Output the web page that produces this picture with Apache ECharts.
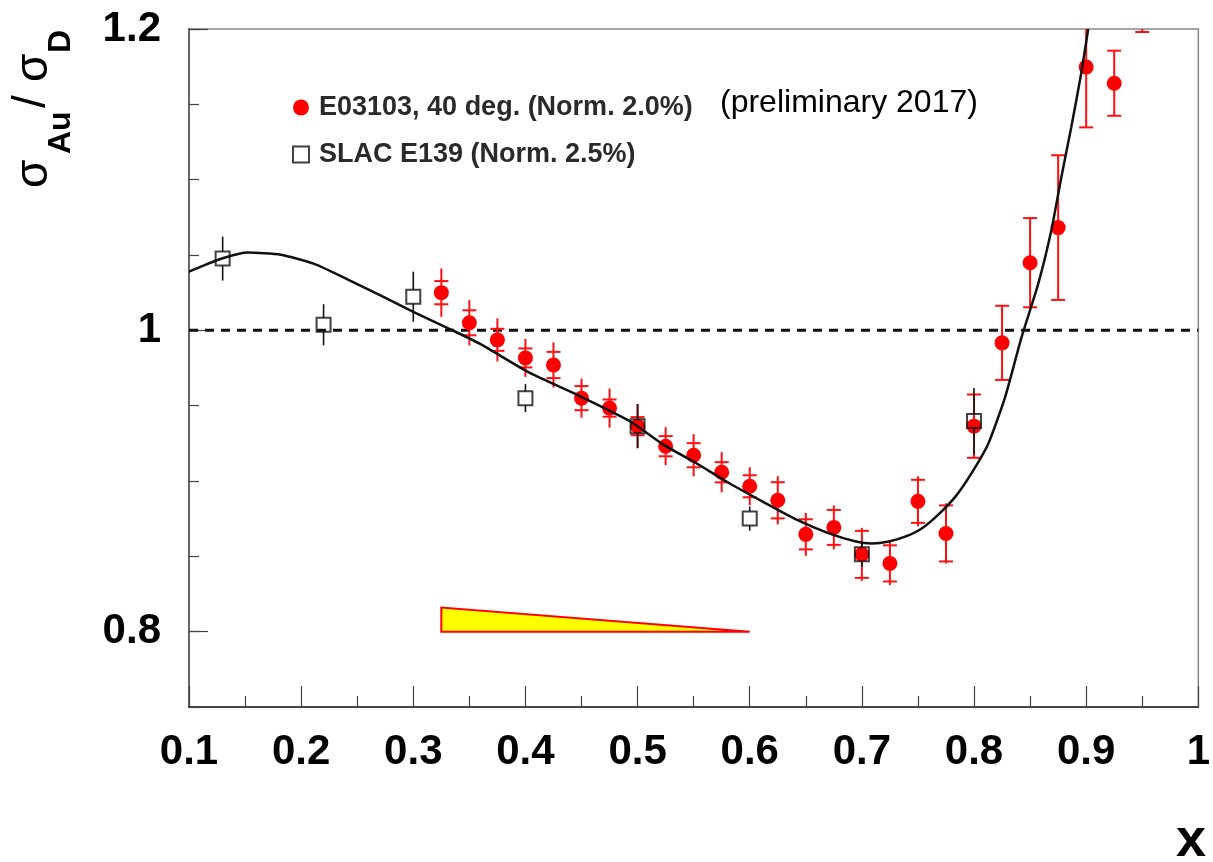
<!DOCTYPE html>
<html>
<head>
<meta charset="utf-8">
<script src="https://cdn.jsdelivr.net/npm/echarts@6/dist/echarts.min.js"></script>
<style>
  html, body { margin: 0; padding: 0; background: #fff; }
  #chart { width: 1213px; height: 862px; }
</style>
</head>
<body>
<div id="chart"></div>
<script>
// E03103, 40 deg: x, ratio, stat error (caps), total error (bar)
var e03103X = [0.325, 0.35, 0.375, 0.4, 0.425, 0.45, 0.475, 0.5, 0.525, 0.55, 0.575, 0.6, 0.625,
               0.65, 0.675, 0.7, 0.725, 0.75, 0.775, 0.8, 0.825, 0.85, 0.875, 0.9, 0.925, 0.95];
var e03103Y = [1.025, 1.005, 0.9937, 0.9817, 0.977, 0.955, 0.9484, 0.9364, 0.9231, 0.9171, 0.9058, 0.8965, 0.8872,
               0.8646, 0.8692, 0.8513, 0.8453, 0.8865, 0.8652, 0.9364, 0.9917, 1.0449, 1.0682, 1.1747, 1.164, 1.235];
var e03103Stat = [0.0077, 0.0083, 0.0073, 0.0063, 0.0087, 0.008, 0.0057, 0.006, 0.0067, 0.008, 0.0067, 0.0073, 0.012,
                  0.01, 0.0116, 0.0156, 0.012, 0.0143, 0.0186, 0.021, 0.0246, 0.0296, 0.048, 0.04, 0.0216, 0.037];
var e03103Tot = [0.016, 0.015, 0.0143, 0.0126, 0.015, 0.013, 0.013, 0.0146, 0.0126, 0.014, 0.0133, 0.0126, 0.016,
                 0.0143, 0.0146, 0.0176, 0.0143, 0.0166, 0.02, 0.0213, 0.025, 0.03, 0.048, 0.04, 0.0216, 0.037];

// SLAC E139
var slacX = [0.13, 0.22, 0.30, 0.40, 0.50, 0.60, 0.70, 0.80];
var slacY = [1.0476, 1.0037, 1.0223, 0.955, 0.9364, 0.8751, 0.8513, 0.9398];
var slacErr = [0.0146, 0.0136, 0.0166, 0.0093, 0.0146, 0.008, 0.008, 0.022];

// fit curve
var fitX = [0.1, 0.1062, 0.13, 0.1524, 0.1818, 0.2111, 0.2413, 0.2707, 0.3, 0.3302, 0.3596, 0.404, 0.4484,
            0.4929, 0.5222, 0.5524, 0.5818, 0.6111, 0.6413, 0.6707, 0.6947, 0.7089, 0.724, 0.7391, 0.7533,
            0.7684, 0.7836, 0.7978, 0.8129, 0.828, 0.8422, 0.8573, 0.8689, 0.8778, 0.8867, 0.8956, 0.9018];
var fitY = [1.0389, 1.0409, 1.0478, 1.0516, 1.0502, 1.0443, 1.0339, 1.0232, 1.0123, 1.0017, 0.991, 0.9717, 0.9564,
            0.9398, 0.9245, 0.9118, 0.8985, 0.8865, 0.8745, 0.8652, 0.8598, 0.8585, 0.8598, 0.8632, 0.8685,
            0.8779, 0.8898, 0.9052, 0.9251, 0.9564, 0.995, 1.031, 1.0662, 1.1015, 1.1348, 1.1707, 1.2];

var unityX = [0.1, 1.0];
var unityY = [1, 1];

// normalisation band (yellow wedge)
var bandX = [0.325, 0.6];
var bandTop = [0.816, 0.8];
var bandBase = 0.8;

var yLabelValues = [0.8, 1, 1.2];

var font = '"Liberation Sans", Arial, sans-serif';

function zip(xs, ys) {
  return xs.map(function (x, i) { return [x, ys[i]]; });
}

var redErrData = e03103X.map(function (x, i) {
  return [x, e03103Y[i], e03103Stat[i], e03103Tot[i]];
});
var slacErrData = slacX.map(function (x, i) {
  return [x, slacY[i], slacErr[i]];
});

function renderRedErr(params, api) {
  var x = api.value(0), y = api.value(1), st = api.value(2), tot = api.value(3);
  var lo = api.coord([x, y - tot]);
  var hi = api.coord([x, y + tot]);
  var sLo = api.coord([x, y - st]);
  var sHi = api.coord([x, y + st]);
  var style = { stroke: '#ff1010', lineWidth: 2 };
  return {
    type: 'group',
    children: [
      { type: 'line', shape: { x1: lo[0], y1: lo[1], x2: hi[0], y2: hi[1] }, style: style },
      { type: 'line', shape: { x1: sLo[0] - 7, y1: sLo[1], x2: sLo[0] + 7, y2: sLo[1] }, style: style },
      { type: 'line', shape: { x1: sHi[0] - 7, y1: sHi[1], x2: sHi[0] + 7, y2: sHi[1] }, style: style }
    ]
  };
}

function renderSlacErr(params, api) {
  var x = api.value(0), y = api.value(1), e = api.value(2);
  var c = api.coord([x, y]);
  var lo = api.coord([x, y - e]);
  var hi = api.coord([x, y + e]);
  var style = { stroke: '#111', lineWidth: 1.6 };
  return {
    type: 'group',
    children: [
      { type: 'line', shape: { x1: c[0], y1: c[1] + 7, x2: lo[0], y2: lo[1] }, style: style },
      { type: 'line', shape: { x1: c[0], y1: c[1] - 7, x2: hi[0], y2: hi[1] }, style: style }
    ]
  };
}

function renderBand(params, api) {
  var p = [
    api.coord([bandX[0], bandBase]),
    api.coord([bandX[0], bandTop[0]]),
    api.coord([bandX[1], bandTop[1]]),
    api.coord([bandX[1], bandBase])
  ];
  return {
    type: 'polygon',
    shape: { points: p },
    style: { fill: '#ffff00', stroke: '#ff0000', lineWidth: 2 }
  };
}

var chart = echarts.init(document.getElementById('chart'));

var option = {
  animation: false,
  backgroundColor: '#fff',
  grid: {
    left: 189, right: 10, top: 29, bottom: 155,
    show: true, borderColor: '#888', borderWidth: 1.5, backgroundColor: 'transparent'
  },
  legend: {
    orient: 'vertical',
    left: 287, top: 89,
    itemWidth: 16, itemHeight: 16, itemGap: 20,
    textStyle: { fontFamily: font, fontSize: 27, fontWeight: 'bold', color: '#2a2a2a', padding: [0, 0, 0, 5] },
    data: ['E03103, 40 deg. (Norm. 2.0%)', 'SLAC E139 (Norm. 2.5%)']
  },
  xAxis: {
    type: 'value',
    min: 0.1, max: 1, interval: 0.1,
    axisLine: { show: true, lineStyle: { color: '#444', width: 2 } },
    axisTick: { inside: true, length: 21, lineStyle: { color: '#444', width: 1.2 } },
    minorTick: { show: true, splitNumber: 2, length: 11, lineStyle: { color: '#444', width: 1.2 } },
    splitLine: { show: false },
    axisLabel: { margin: 24, fontFamily: font, fontSize: 42, fontWeight: 'bold', color: '#000' }
  },
  yAxis: [
    {
      type: 'value',
      min: 0.75, max: 1.2, interval: 0.05,
      axisLine: { show: true, lineStyle: { color: '#666', width: 2 } },
      axisTick: { inside: true, length: 10, lineStyle: { color: '#444', width: 1.2 } },
      splitLine: { show: false },
      axisLabel: {
        customValues: yLabelValues,
        margin: 28, fontFamily: font, fontSize: 42, fontWeight: 'bold', color: '#000'
      }
    },
    {
      type: 'value',
      position: 'left',
      min: 0.75, max: 1.2, interval: 0.05,
      axisLine: { show: false },
      axisTick: { show: true, inside: true, length: 19, customValues: yLabelValues, lineStyle: { color: '#444', width: 1.2 } },
      axisLabel: { show: false },
      splitLine: { show: false }
    }
  ],
  series: [
    {
      type: 'custom',
      name: 'band',
      renderItem: renderBand,
      data: [[bandX[0], bandTop[0]]],
      clip: true,
      z: 1
    },
    {
      type: 'line',
      name: 'unity',
      data: zip(unityX, unityY),
      showSymbol: false,
      lineStyle: { color: '#111', width: 3, type: [9, 7] },
      z: 2
    },
    {
      type: 'custom',
      name: 'redErr',
      renderItem: renderRedErr,
      data: redErrData,
      clip: true,
      z: 3
    },
    {
      type: 'scatter',
      name: 'E03103, 40 deg. (Norm. 2.0%)',
      data: zip(e03103X, e03103Y),
      symbol: 'circle',
      symbolSize: 15,
      itemStyle: { color: '#ff0000', opacity: 1 },
      clip: true,
      z: 4
    },
    {
      type: 'line',
      name: 'fit',
      data: zip(fitX, fitY),
      showSymbol: false,
      smooth: 0.2,
      lineStyle: { color: '#111', width: 2.5 },
      z: 5
    },
    {
      type: 'custom',
      name: 'slacErr',
      renderItem: renderSlacErr,
      data: slacErrData,
      clip: true,
      z: 6
    },
    {
      type: 'scatter',
      name: 'SLAC E139 (Norm. 2.5%)',
      data: zip(slacX, slacY),
      symbol: 'rect',
      symbolSize: 14,
      itemStyle: { color: 'rgba(255,255,255,0)', borderColor: '#111', borderWidth: 2 },
      z: 7
    }
  ],
  graphic: [
    {
      type: 'text',
      style: { text: '(preliminary 2017)', x: 720, y: 103, verticalAlign: 'middle',
               fontFamily: font, fontSize: 32, fill: '#000' }
    },
    {
      type: 'text',
      style: { text: 'x', x: 1206, y: 841, align: 'right', verticalAlign: 'middle',
               fontFamily: font, fontSize: 54, fontWeight: 'bold', fill: '#000' }
    },
    {
      type: 'group',
      x: 0, y: 190,
      rotation: Math.PI / 2,
      children: [
        { type: 'text', style: { text: 'σ', x: 2, y: 34, verticalAlign: 'middle', fontFamily: font, fontSize: 46, fill: '#000' } },
        { type: 'text', style: { text: 'Au', x: 36, y: 61, verticalAlign: 'middle', fontFamily: font, fontSize: 32, fontWeight: 'bold', fill: '#000' } },
        { type: 'text', style: { text: '/', x: 82, y: 32, verticalAlign: 'middle', fontFamily: font, fontSize: 46, fill: '#000' } },
        { type: 'text', style: { text: 'σ', x: 108, y: 34, verticalAlign: 'middle', fontFamily: font, fontSize: 46, fill: '#000' } },
        { type: 'text', style: { text: 'D', x: 137, y: 61, verticalAlign: 'middle', fontFamily: font, fontSize: 32, fontWeight: 'bold', fill: '#000' } }
      ]
    }
  ]
};

chart.setOption(option);
</script>
</body>
</html>
